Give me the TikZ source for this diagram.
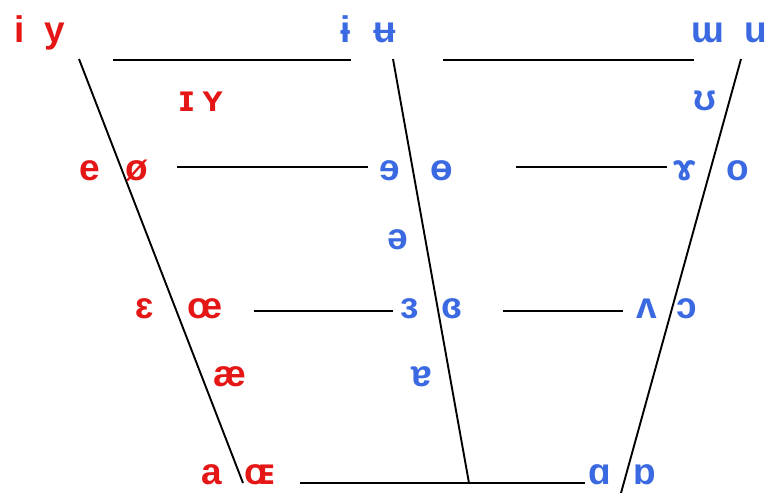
\documentclass[tikz,border=0pt]{standalone}
\usepackage{fontspec}
\setmainfont{Liberation Sans}
\definecolor{vred}{RGB}{228,22,22}
\definecolor{vblue}{RGB}{58,105,225}
\begin{document}
\begin{tikzpicture}[x=1pt,y=-1pt,
  v/.style={inner sep=0pt,anchor=base,font=\fontsize{37}{37}\selectfont\bfseries},
  fr/.style={v,text=vred},
  bk/.style={v,text=vblue},
  ln/.style={draw=black,line width=1.9pt}]
\useasboundingbox (0,0) rectangle (769,493);
% vowels
\node[fr] (i) at (20,42) {i};
\node[fr] (y) at (55,42) {y};
\node[bk] (ibar) at (346,42) {ɨ};
\node[bk] (ubar) at (385,42) {ʉ};
\node[bk] (wu) at (708,42) {ɯ};
\node[bk] (u) at (756,42) {u};
\node[fr] (I) at (187,111) {ɪ};
\node[fr] (Y) at (213,111) {ʏ};
\node[bk] (U) at (705,110) {ʊ};
\node[fr] (e) at (90,180) {e};
\node[fr] (oslash) at (137,180) {ø};
\node[bk] (revE) at (390,180) {ɘ};
\node[bk] (obar) at (442,180) {ɵ};
\node[bk] (ram) at (685,180) {ɤ};
\node[bk] (o) at (738,180) {o};
\node[bk] (schwa) at (398,249) {ə};
\node[fr] (eps) at (145,318) {ɛ};
\node[fr] (oe) at (205,318) {œ};
\node[bk] (reps) at (410,318) {ɜ};
\node[bk] (cleps) at (452,318) {ɞ};
\node[bk] (wedge) at (647,318) {ʌ};
\node[bk] (oo) at (687,318) {ɔ};
\node[fr] (ae) at (230,386) {æ};
\node[bk] (turna) at (422,386) {ɐ};
\node[fr] (a) at (212,484) {a};
\node[fr] (OE) at (260,484) {ɶ};
\node[bk] (alpha) at (600,484) {ɑ};
\node[bk] (turnalpha) at (645,484) {ɒ};
% frame coordinates
\coordinate (Lt) at (79,59);
\coordinate (Lb) at (243,483);
\coordinate (Mt) at (393,59);
\coordinate (Mb) at (469,483);
\coordinate (Rt) at (741,59);
\coordinate (Rb) at (621,493);
\coordinate (h1a) at (113,60); \coordinate (h1b) at (351,60);
\coordinate (h1c) at (443,60); \coordinate (h1d) at (694,60);
\coordinate (h2a) at (177,167); \coordinate (h2b) at (368,167);
\coordinate (h2c) at (516,167); \coordinate (h2d) at (667,167);
\coordinate (h3a) at (254,311); \coordinate (h3b) at (393,311);
\coordinate (h3c) at (503,311); \coordinate (h3d) at (623,311);
\coordinate (h4a) at (300,483); \coordinate (h4b) at (585,483);
\draw[ln] (Lt) -- (Lb);
\draw[ln] (Mt) -- (Mb);
\draw[ln] (Rt) -- (Rb);
\draw[ln] (h1a) -- (h1b);
\draw[ln] (h1c) -- (h1d);
\draw[ln] (h2a) -- (h2b);
\draw[ln] (h2c) -- (h2d);
\draw[ln] (h3a) -- (h3b);
\draw[ln] (h3c) -- (h3d);
\draw[ln] (h4a) -- (h4b);
\end{tikzpicture}
\end{document}
